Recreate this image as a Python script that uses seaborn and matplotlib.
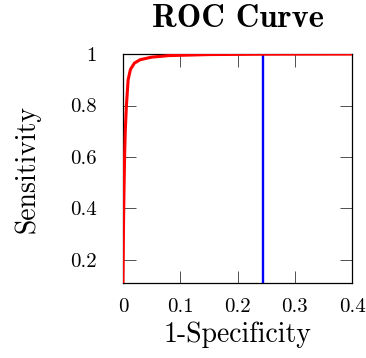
import seaborn as sns
import matplotlib.pyplot as plt
import pandas as pd

# ROC curve
fpr = [0.0, 0.001, 0.002, 0.003, 0.004, 0.006, 0.009, 0.013, 0.02, 0.03, 0.05, 0.08, 0.15, 0.25, 0.4]
tpr = [0.11, 0.35, 0.5, 0.62, 0.7, 0.8, 0.9, 0.94, 0.965, 0.978, 0.988, 0.994, 0.998, 0.9995, 1.0]
threshold_x = 0.244

x_ticks = [0, 0.1, 0.2, 0.3, 0.4]
x_labels = ['0', '0.1', '0.2', '0.3', '0.4']
y_ticks = [0.2, 0.4, 0.6, 0.8, 1.0]
y_labels = ['0.2', '0.4', '0.6', '0.8', '1']

sns.set_style('ticks')
plt.rcParams['font.family'] = ['cmr10', 'DejaVu Serif']
plt.rcParams['axes.unicode_minus'] = False
plt.rcParams['axes.formatter.use_mathtext'] = True
plt.rcParams['text.color'] = 'black'
plt.rcParams['axes.labelcolor'] = 'black'
plt.rcParams['xtick.labelcolor'] = 'black'
plt.rcParams['ytick.labelcolor'] = 'black'

df = pd.DataFrame({'fpr': fpr, 'tpr': tpr})

fig = plt.figure(figsize=(3.66, 3.58), dpi=100)
ax = fig.add_axes([0.336, 0.2095, 0.626, 0.6395])

sns.lineplot(data=df, x='fpr', y='tpr', color='#ff0000', linewidth=2.2, ax=ax, zorder=3)
ax.axvline(threshold_x, color='#0000ff', linewidth=1.7, zorder=2)

ax.set_xlim(0, 0.4)
ax.set_ylim(0.11, 1.0)
ax.set_xticks(x_ticks)
ax.set_xticklabels(x_labels)
ax.set_yticks(y_ticks)
ax.set_yticklabels(y_labels)
ax.tick_params(direction='in', length=9, width=0.6, top=True, right=True,
               labelsize=15, color='#333333')
ax.tick_params(axis='x', pad=11)
ax.tick_params(axis='y', pad=19)
for s in ax.spines.values():
    s.set_linewidth(0.9)
    s.set_color('black')

ax.set_xlabel('1-Specificity', fontsize=20, labelpad=4)
ax.set_ylabel('Sensitivity', fontsize=20, labelpad=21)
ax.set_title('ROC Curve', fontsize=23.5, fontfamily=['cmb10', 'DejaVu Serif'], pad=19.5)

fig.savefig('out.png', dpi=100)
